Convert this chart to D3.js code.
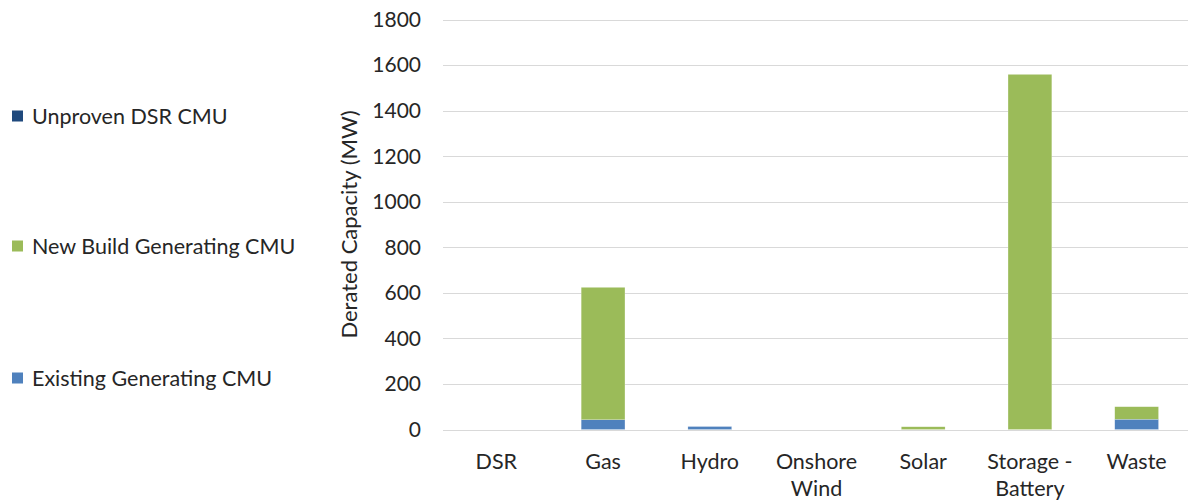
<!DOCTYPE html>
<html lang="en">
<head>
<meta charset="UTF-8">
<title>Derated Capacity</title>
<script src="https://cdn.jsdelivr.net/npm/d3@7"></script>
<style>
  body { margin: 0; background: #fff; }
  text { font-family: Lato, "Open Sans", sans-serif; fill: #262626; }
</style>
</head>
<body>
<div id="chart"></div>
<script>
// Data
var categories = ["DSR", "Gas", "Hydro", "Onshore Wind", "Solar", "Storage - Battery", "Waste"];
var existing   = [0, 43, 13, 0, 0, 0, 45];
var newBuild   = [0, 581, 0, 0, 12, 1559, 55];
var unproven   = [0, 0, 0, 0, 0, 0, 0];
var yTicks = [0, 200, 400, 600, 800, 1000, 1200, 1400, 1600, 1800];

var seriesNames = ["Existing Generating CMU", "New Build Generating CMU", "Unproven DSR CMU"];
var seriesColors = ["#4f81bd", "#9bbb59", "#1f497d"];

var w = 1188, h = 501;
var plotLeft = 443, plotRight = 1190, plotTop = 19.5, plotBottom = 429.5;

var svg = d3.select("#chart").append("svg")
  .attr("width", w)
  .attr("height", h);

var rows = categories.map(function(c, i) {
  return { cat: c, existing: existing[i], newBuild: newBuild[i], unproven: unproven[i] };
});
var stack = d3.stack().keys(["existing", "newBuild", "unproven"])(rows);

var xScale = d3.scaleBand()
  .domain(categories)
  .range([plotLeft, plotRight])
  .paddingInner(0.59)
  .paddingOuter(0.295);

var yScale = d3.scaleLinear()
  .domain([0, 1800])
  .range([plotBottom, plotTop]);

// gridlines
svg.selectAll(".grid")
  .data(yTicks)
  .enter()
  .append("line")
  .attr("x1", plotLeft)
  .attr("x2", plotRight)
  .attr("y1", function(d) { return Math.round(yScale(d)) + 0.5; })
  .attr("y2", function(d) { return Math.round(yScale(d)) + 0.5; })
  .attr("stroke", "#d9d9d9")
  .attr("stroke-width", 1);

// tick labels
svg.selectAll(".ytick")
  .data(yTicks)
  .enter()
  .append("text")
  .attr("x", 421)
  .attr("y", function(d) { return yScale(d); })
  .attr("dy", "0.35em")
  .attr("text-anchor", "end")
  .attr("font-size", "21px")
  .text(function(d) { return d; });

// bars
svg.selectAll(".series")
  .data(stack)
  .enter()
  .append("g")
  .attr("fill", function(d, i) { return seriesColors[i]; })
  .selectAll("rect")
  .data(function(d) { return d; })
  .enter()
  .append("rect")
  .attr("x", function(d) { return xScale(d.data.cat); })
  .attr("width", xScale.bandwidth())
  .attr("y", function(d) { return yScale(d[1]); })
  .attr("height", function(d) { return yScale(d[0]) - yScale(d[1]); })
  .attr("stroke", "#ffffff")
  .attr("stroke-opacity", 0.4)
  .attr("stroke-width", 0.5);

// category labels (wrap two-word labels)
var catLabels = svg.selectAll(".xlab")
  .data(categories)
  .enter()
  .append("text")
  .attr("text-anchor", "middle")
  .attr("font-size", "21.5px")
  .attr("y", 469);

catLabels.each(function(d) {
  var lines;
  if (d == "Onshore Wind") lines = ["Onshore", "Wind"];
  else if (d == "Storage - Battery") lines = ["Storage -", "Battery"];
  else lines = [d];
  var t = d3.select(this);
  lines.forEach(function(l, i) {
    t.append("tspan")
      .attr("x", xScale(d) + xScale.bandwidth() / 2)
      .attr("dy", i == 0 ? 0 : 27)
      .text(l);
  });
});

// axis title
svg.append("text")
  .attr("transform", "translate(357," + ((plotTop + plotBottom) / 2) + ") rotate(-90)")
  .attr("text-anchor", "middle")
  .attr("font-size", "22px")
  .text("Derated Capacity (MW)");

// legend (reverse order, top to bottom)
var legendY = [116, 246, 378];
var legendOrder = [2, 1, 0];
legendOrder.forEach(function(s, i) {
  svg.append("rect")
    .attr("x", 12)
    .attr("y", legendY[i] - 5.5)
    .attr("width", 11)
    .attr("height", 11)
    .attr("fill", seriesColors[s]);
  svg.append("text")
    .attr("x", 32)
    .attr("y", legendY[i])
    .attr("dy", "0.35em")
    .attr("font-size", "21.5px")
    .text(seriesNames[s]);
});
</script>
</body>
</html>
